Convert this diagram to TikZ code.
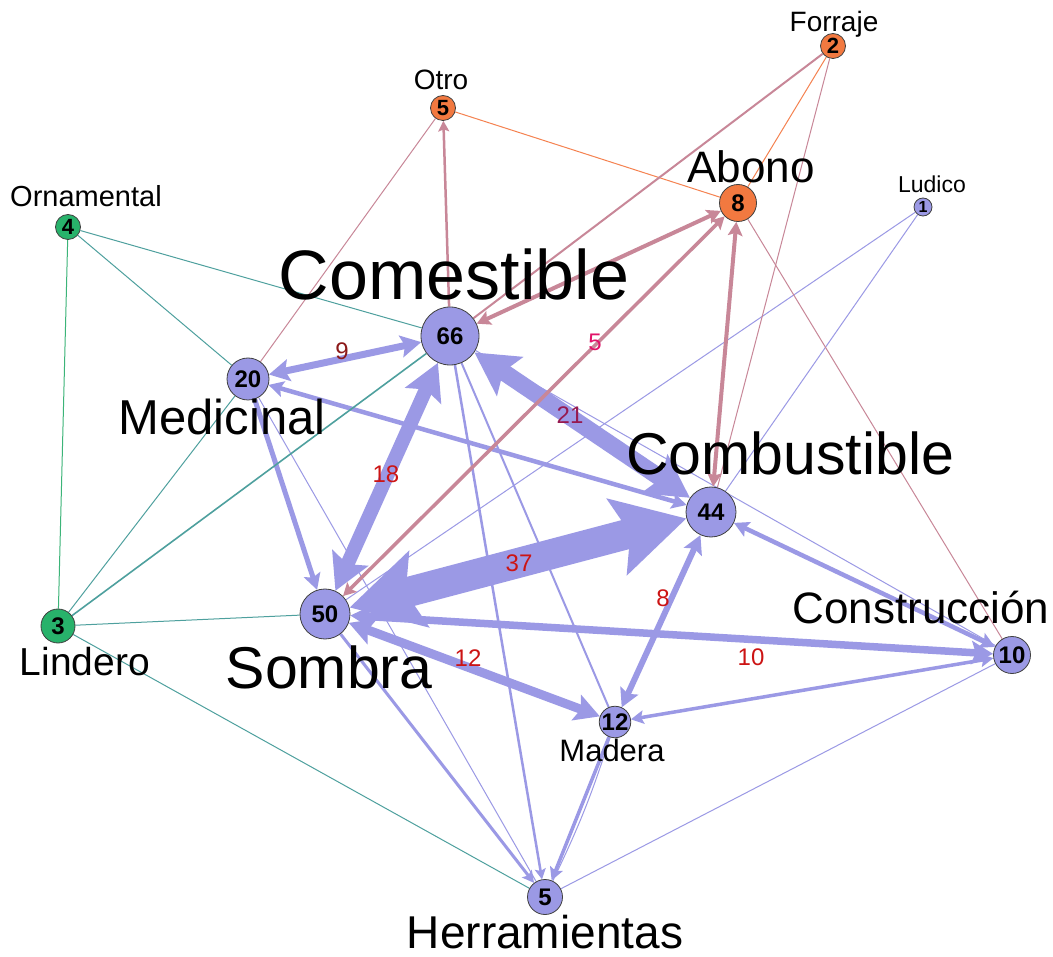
\documentclass[tikz,border=0pt]{standalone}
\usepackage{fontspec}
\setmainfont{Liberation Sans}
\usetikzlibrary{arrows.meta}
\pgfdeclarelayer{bglayer}
\pgfdeclarelayer{edgelayer}
\pgfsetlayers{bglayer,edgelayer,main}
\definecolor{pur}{RGB}{155,153,229}
\definecolor{org}{RGB}{242,121,64}
\definecolor{grn}{RGB}{40,178,107}
\definecolor{tealedge}{RGB}{78,160,158}
\definecolor{grnedge}{RGB}{60,180,120}
\definecolor{mauve}{RGB}{200,135,152}
\definecolor{orgedge}{RGB}{245,130,80}
\definecolor{lblred}{RGB}{204,20,20}
\definecolor{lbldark}{RGB}{140,25,25}
\definecolor{lblmag}{RGB}{150,25,80}
\definecolor{lblpink}{RGB}{225,20,105}
\tikzset{
  x=1pt, y=-1pt,
  barb/.tip={Stealth[length=5pt 2.2, width=5pt 2.4, inset=1pt 0.4]},
  vtx/.style={circle, draw=black!75, line width=0.8pt, inner sep=0pt, minimum size=#1,
    font=\fontsize{24}{24}\selectfont\bfseries},
  vp/.style={vtx=#1, fill=pur},
  vo/.style={vtx=#1, fill=org},
  vg/.style={vtx=#1, fill=grn},
  lab/.style={anchor=base, inner sep=0pt, font=\fontsize{#1}{#1}\selectfont},
  elab/.style={font=\fontsize{24}{24}\selectfont, text=lblred, inner sep=0pt},
  pe/.style={draw=pur, line width=#1},
  te/.style={draw=tealedge, line width=#1},
  me/.style={draw=mauve, line width=#1},
  oe/.style={draw=orgedge, line width=#1},
  both/.style={arrows={barb-barb}},
  fwd/.style={arrows={-barb}},
}
\begin{document}
\begin{tikzpicture}
\useasboundingbox (0,0) rectangle (1053,957);
\begin{pgfonlayer}{bglayer}
\fill[white] (0,0) rectangle (1053,957);
\end{pgfonlayer}

% vertices
\node[vo=25, font=\fontsize{22}{22}\selectfont\bfseries] (forr) at (833,46) {2};
\node[vo=25, font=\fontsize{22}{22}\selectfont\bfseries] (otro) at (443,108) {5};
\node[vo=37] (abono) at (738,203) {8};
\node[vp=18, font=\fontsize{16}{16}\selectfont\bfseries] (ludico) at (923,207) {1};
\node[vg=25, font=\fontsize{22}{22}\selectfont\bfseries] (orna) at (68,227) {4};
\node[vp=58] (come) at (450,336) {66};
\node[vp=42] (medi) at (248,379) {20};
\node[vp=50] (comb) at (711,512) {44};
\node[vg=34] (lind) at (58,626) {3};
\node[vp=50] (somb) at (325,614) {50};
\node[vp=37] (cons) at (1012,655) {10};
\node[vp=31] (made) at (615,722) {12};
\node[vp=35] (herr) at (545,897) {5};

% vertex labels
\node[lab=28] (tforr) at (834,32) {Forraje};
\node[lab=28] (totro) at (441,90) {Otro};
\node[lab=44] (tabono) at (751,183) {Abono};
\node[lab=23] (tludico) at (932,193) {Ludico};
\node[lab=29] (torna) at (86,207) {Ornamental};
\node[lab=70] (tcome) at (454,300) {Comestible};
\node[lab=49] (tmedi) at (222,435) {Medicinal};
\node[lab=59] (tcomb) at (790,475) {Combustible};
\node[lab=44] (tcons) at (921,623) {Construcción};
\node[lab=39] (tlind) at (85,675) {Lindero};
\node[lab=59] (tsomb) at (329,688) {Sombra};
\node[lab=31] (tmade) at (612,761) {Madera};
\node[lab=46] (therr) at (545,948) {Herramientas};

\begin{pgfonlayer}{edgelayer}
% purple thin
\draw[pe=1] (medi) -- (herr);
\draw[pe=1] (somb) -- (ludico);
\draw[pe=1] (comb) -- (ludico);
\draw[pe=1] (come) -- (cons);
\draw[pe=1] (cons) -- (herr);
\draw[pe=1] (made) to[bend left=4] (herr);
% purple medium
\draw[pe=2] (come) -- (made);
\draw[pe=2.5, fwd] (come) -- (herr);
\draw[pe=3, fwd] (somb) -- (herr);
\draw[pe=3.5, fwd] (made) -- (herr);
\draw[pe=3.5, both] (cons) -- (made);
\draw[pe=4.5, both] (comb) -- (cons);
\draw[pe=5, fwd] (medi) -- (somb);
\draw[pe=4.5, both] (medi) -- (comb);
% purple thick
\draw[pe=7, both] (come) -- (medi);
\draw[pe=14, both] (come) -- (somb);
\draw[pe=17, both] (come) -- (comb);
\draw[pe=30, both] (somb) -- (comb);
\draw[pe=7.5, both] (somb) -- (cons);
\draw[pe=9, both] (somb) -- (made);
\draw[pe=6, both] (comb) -- (made);
% teal / green
\draw[te=1] (orna) -- (come);
\draw[te=1] (orna) -- (medi);
\draw[te=1] (lind) -- (medi);
\draw[te=1] (lind) -- (somb);
\draw[te=1] (lind) -- (herr);
\draw[te=1.6] (lind) -- (come);
\draw[draw=grnedge, line width=1] (orna) -- (lind);
% orange / mauve
\draw[oe=1] (otro) -- (abono);
\draw[oe=1] (forr) -- (abono);
\draw[me=1] (forr) -- (comb);
\draw[me=1] (otro) -- (medi);
\draw[me=1] (abono) -- (cons);
\draw[me=2] (forr) -- (come);
\draw[me=2.5, fwd] (come) -- (otro);
\draw[me=4, both] (come) -- (abono);
\draw[me=3.5, both] (somb) -- (abono);
\draw[me=4, both] (comb) -- (abono);
\end{pgfonlayer}

% edge labels
\node[elab, text=lbldark] (l9) at (342,351) {9};
\node[elab] (l18) at (386,474) {18};
\node[elab, text=lblmag] (l21) at (570,415) {21};
\node[elab, text=lblpink] (l5) at (595,342) {5};
\node[elab] (l37) at (519,563) {37};
\node[elab] (l8) at (663,598) {8};
\node[elab] (l12) at (468,658) {12};
\node[elab] (l10) at (751,657) {10};
\end{tikzpicture}
\end{document}
